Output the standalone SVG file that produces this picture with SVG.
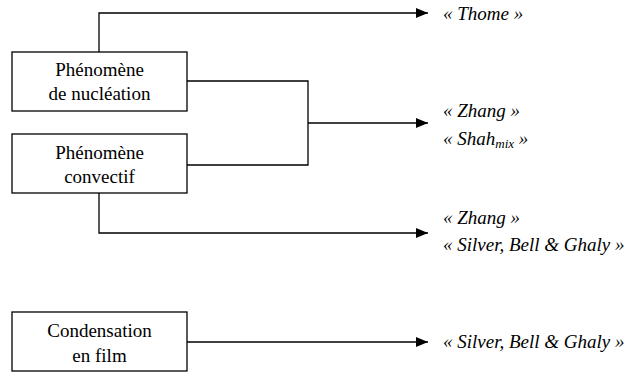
<svg xmlns="http://www.w3.org/2000/svg" width="627" height="372" viewBox="0 0 627 372">
<style>
.box{fill:#fff;stroke:#000;stroke-width:1.3}
.t{font-family:"Liberation Serif","Times New Roman",serif;font-size:19px;fill:#000;text-anchor:middle}
.l{font-family:"Liberation Serif","Times New Roman",serif;font-size:19px;font-style:italic;fill:#000}
.c{fill:none;stroke:#000;stroke-width:1.3}
</style>
<defs>
<marker id="ah" markerWidth="12" markerHeight="10" refX="12" refY="5" orient="auto" markerUnits="userSpaceOnUse">
<path d="M0,0 L12,5 L0,10 Z" fill="#000"/>
</marker>
</defs>
<g id="connectors">
<path class="c" d="M99,52 V13 H428" marker-end="url(#ah)"/>
<path class="c" d="M187,81 H308 V165 H187"/>
<path class="c" d="M308,123 H428" marker-end="url(#ah)"/>
<path class="c" d="M99,193 V233 H428" marker-end="url(#ah)"/>
<path class="c" d="M187,342 H428" marker-end="url(#ah)"/>
</g>
<g id="nucleation">
<rect class="box" x="12" y="52" width="175" height="59"/>
<text class="t" x="99.5" y="76">Phénomène</text>
<text class="t" x="99.5" y="100">de nucléation</text>
</g>
<g id="convectif">
<rect class="box" x="12" y="134" width="175" height="59"/>
<text class="t" x="99.5" y="159">Phénomène</text>
<text class="t" x="99.5" y="183">convectif</text>
</g>
<g id="condensation">
<rect class="box" x="12" y="312" width="175" height="59"/>
<text class="t" x="99.5" y="337">Condensation</text>
<text class="t" x="99.5" y="362">en film</text>
</g>
<g id="labels">
<text class="l" x="443" y="20">« Thome »</text>
<text class="l" x="443" y="117">« Zhang »</text>
<text class="l" x="443" y="145">« Shah<tspan font-size="13" dy="3">mix</tspan><tspan dy="-3"> »</tspan></text>
<text class="l" x="443" y="224">« Zhang »</text>
<text class="l" x="443" y="251">« Silver, Bell &amp; Ghaly »</text>
<text class="l" x="443" y="348">« Silver, Bell &amp; Ghaly »</text>
</g>
</svg>
